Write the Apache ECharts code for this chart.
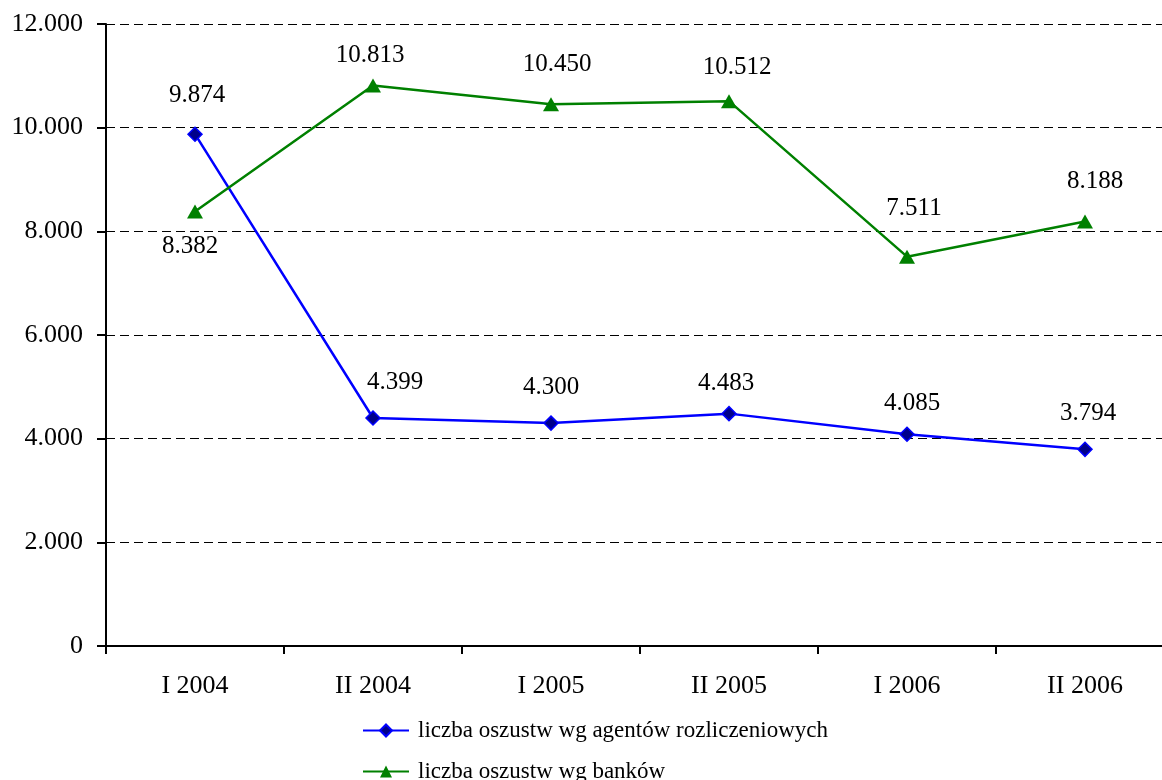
<!DOCTYPE html>
<html>
<head>
<meta charset="utf-8">
<script src="https://cdn.jsdelivr.net/npm/echarts@6/dist/echarts.min.js"></script>
<style>
  html, body { margin: 0; padding: 0; background: #ffffff; overflow: hidden; }
  /* canvas is a bit wider than the window so the plot runs off the right edge */
  #chart { width: 1174px; height: 780px; }
</style>
</head>
<body>
<div id="chart"></div>
<script>
// Half-year periods
const categories = ['I 2004', 'II 2004', 'I 2005', 'II 2005', 'I 2006', 'II 2006'];
// Fraud counts reported by acquirers
const agentValues = [9874, 4399, 4300, 4483, 4085, 3794];
// Fraud counts reported by banks
const bankValues = [8382, 10813, 10450, 10512, 7511, 8188];
const seriesNames = ['liczba oszustw wg agentów rozliczeniowych', 'liczba oszustw wg banków'];

// Hand-placed value label nudges [dx, dy] relative to each marker centre
const agentLabelNudge = [[2, -39], [22, -36], [0, -36], [-3, -30], [5, -31], [3, -36]];
const bankLabelNudge = [[-5, 35], [-3, -30], [6, -40], [8, -34], [7, -48], [10, -40]];

// Polish-style thousands separator: 9874 -> "9.874"
function fmt(v) {
  return String(v).replace(/\B(?=(\d{3})+(?!\d))/g, '.');
}

const FONT = '"Liberation Serif", "Times New Roman", serif';
const chart = echarts.init(document.getElementById('chart'), null, { renderer: 'canvas' });

function withLabels(values, nudges) {
  return values.map((v, i) => ({ value: v, label: { offset: nudges[i] } }));
}

const valueLabel = {
  show: true,
  position: 'inside',
  color: '#000',
  fontSize: 25,
  fontFamily: FONT,
  formatter: p => fmt(p.value)
};

const legendBase = {
  orient: 'vertical',
  left: 357,
  itemWidth: 46,
  itemHeight: 15,
  textStyle: { color: '#000', fontSize: 23, fontFamily: FONT, padding: [0, 0, 0, 4] }
};

chart.setOption({
  backgroundColor: '#ffffff',
  animation: false,
  textStyle: { fontFamily: FONT },
  grid: { left: 106, top: 24, right: 0, bottom: 134, containLabel: false },
  xAxis: {
    type: 'category',
    data: categories,
    boundaryGap: true,
    axisLine: { lineStyle: { color: '#000', width: 2 } },
    axisTick: { show: true, length: 8, lineStyle: { color: '#000', width: 2 } },
    axisLabel: { color: '#000', fontSize: 26, fontFamily: FONT, margin: 27 },
    splitLine: { show: false }
  },
  yAxis: {
    type: 'value',
    min: 0,
    max: 12000,
    interval: 2000,
    axisLine: { show: true, lineStyle: { color: '#000', width: 2 } },
    axisTick: { show: true, length: 9, lineStyle: { color: '#000', width: 2 } },
    axisLabel: { color: '#000', fontSize: 26, fontFamily: FONT, margin: 23, formatter: fmt },
    splitLine: { show: true, lineStyle: { color: '#000', width: 1, type: [9, 5] } }
  },
  legend: [
    Object.assign({ top: 714, data: [seriesNames[0]] }, legendBase),
    Object.assign({ top: 755, data: [seriesNames[1]] }, legendBase)
  ],
  series: [
    {
      name: seriesNames[0],
      type: 'line',
      data: withLabels(agentValues, agentLabelNudge),
      symbol: 'diamond',
      symbolSize: 14,
      color: '#0000ff',
      lineStyle: { color: '#0000ff', width: 2.5 },
      itemStyle: { color: '#00008b', borderColor: '#0000ff', borderWidth: 1.5 },
      label: valueLabel
    },
    {
      name: seriesNames[1],
      type: 'line',
      data: withLabels(bankValues, bankLabelNudge),
      symbol: 'triangle',
      symbolSize: [16, 14],
      color: '#008000',
      lineStyle: { color: '#008000', width: 2.5 },
      itemStyle: { color: '#008000' },
      label: valueLabel
    }
  ]
});
</script>
</body>
</html>
